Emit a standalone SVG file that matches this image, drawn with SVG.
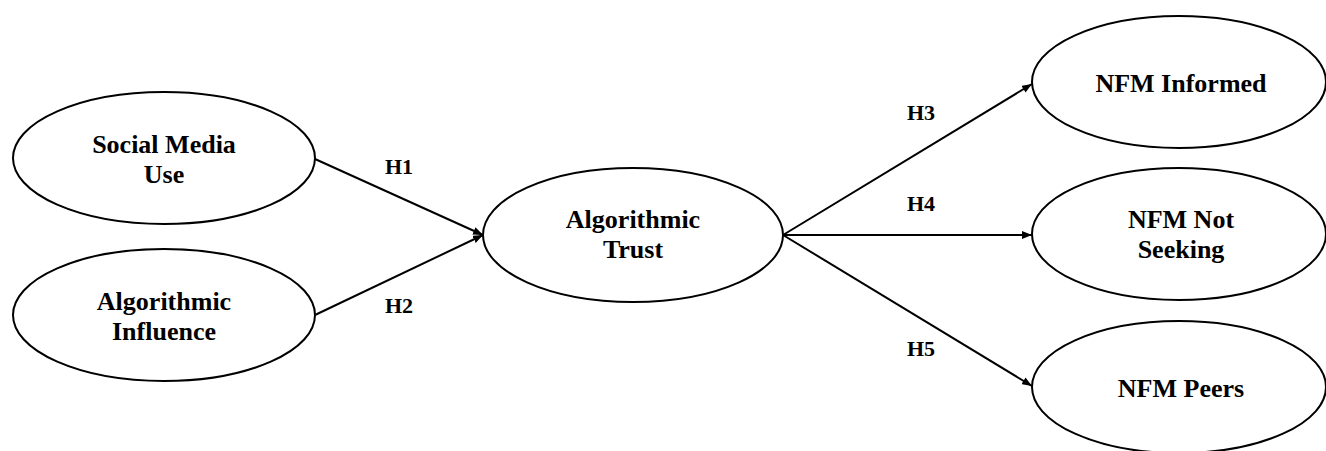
<svg xmlns="http://www.w3.org/2000/svg" width="1326" height="451" viewBox="0 0 1326 451">
  <style>
    .node ellipse { fill: #ffffff; stroke: #000000; stroke-width: 2; }
    .node text { font-family: "Liberation Serif", "Times New Roman", serif; font-weight: bold; font-size: 26px; fill: #000000; text-anchor: middle; }
    .edge { stroke: #000000; stroke-width: 2; fill: none; marker-end: url(#arrow); }
    .label { font-family: "Liberation Serif", "Times New Roman", serif; font-weight: bold; font-size: 22px; fill: #000000; text-anchor: middle; }
  </style>
  <defs>
    <marker id="arrow" viewBox="0 0 10 8" refX="10" refY="4" markerWidth="10" markerHeight="8" markerUnits="userSpaceOnUse" orient="auto">
      <path d="M0,0 L10,4 L0,8 z" fill="#000000"/>
    </marker>
  </defs>
  <rect width="1326" height="451" fill="#ffffff"/>

  <!-- connectors -->
  <g id="connectors">
    <line class="edge" x1="315" y1="159" x2="483" y2="235"/>
    <line class="edge" x1="315" y1="315" x2="483" y2="235"/>
    <line class="edge" x1="783" y1="235" x2="1032" y2="84"/>
    <line class="edge" x1="783" y1="235" x2="1032" y2="235"/>
    <line class="edge" x1="783" y1="235" x2="1032" y2="386"/>
    <text class="label" x="399" y="174">H1</text>
    <text class="label" x="399" y="313">H2</text>
    <text class="label" x="921" y="120">H3</text>
    <text class="label" x="921" y="211">H4</text>
    <text class="label" x="921" y="356">H5</text>
  </g>

  <!-- nodes -->
  <g id="social-media-use" class="node">
    <ellipse cx="164" cy="158" rx="151" ry="66"/>
    <text x="164" y="153">Social Media</text>
    <text x="164" y="183">Use</text>
  </g>
  <g id="algorithmic-influence" class="node">
    <ellipse cx="164" cy="315" rx="151" ry="66"/>
    <text x="164" y="310">Algorithmic</text>
    <text x="164" y="340">Influence</text>
  </g>
  <g id="algorithmic-trust" class="node">
    <ellipse cx="633" cy="235" rx="150" ry="67"/>
    <text x="633" y="228">Algorithmic</text>
    <text x="633" y="258">Trust</text>
  </g>
  <g id="nfm-informed" class="node">
    <ellipse cx="1179" cy="82" rx="147" ry="66"/>
    <text x="1181" y="92">NFM Informed</text>
  </g>
  <g id="nfm-not-seeking" class="node">
    <ellipse cx="1179" cy="234" rx="147" ry="66"/>
    <text x="1181" y="228">NFM Not</text>
    <text x="1181" y="258">Seeking</text>
  </g>
  <g id="nfm-peers" class="node">
    <ellipse cx="1179" cy="387" rx="147" ry="66"/>
    <text x="1181" y="397">NFM Peers</text>
  </g>
</svg>
